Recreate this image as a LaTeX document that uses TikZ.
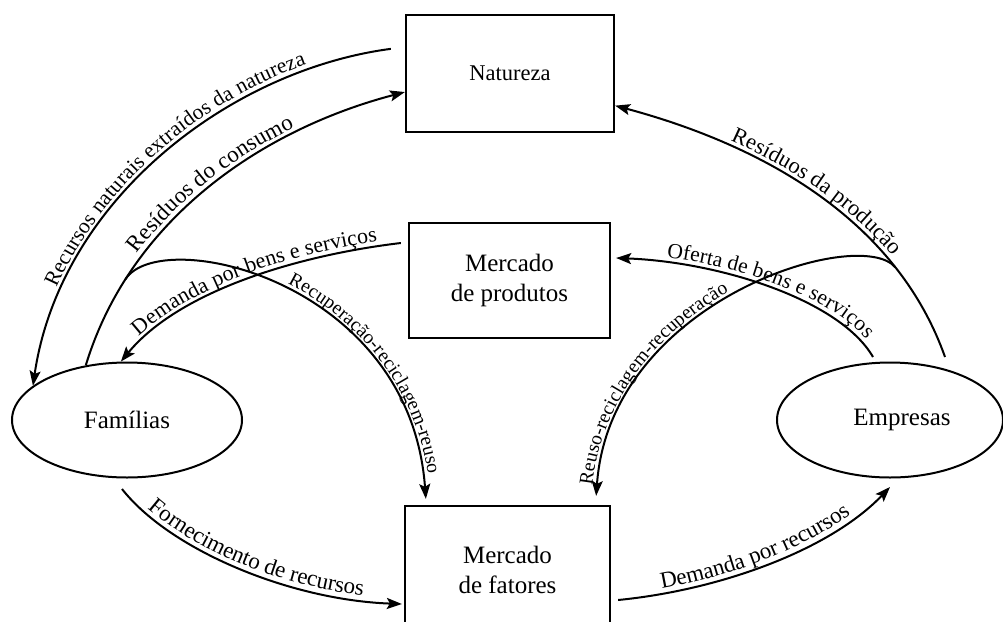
\documentclass[tikz,border=0pt]{standalone}
\usepackage{fontspec}
\setmainfont{Liberation Serif}
\usetikzlibrary{arrows.meta,calc,decorations.text,shapes.geometric}
\newcommand\fsz[1]{\fontsize{#1}{24}\selectfont}
\begin{document}
\begin{tikzpicture}[x=1pt,y=-1pt,
  box/.style={draw, line width=2.3pt, rectangle, align=center, inner sep=0pt, font=\fontsize{25}{30}\selectfont},
  oval/.style={draw, line width=2pt, ellipse, inner sep=0pt, font=\fontsize{25}{30}\selectfont},
  flow/.style={line width=2pt, -{Stealth[length=15pt,width=11pt,inset=3pt]}},
  lbl/.style={decorate, decoration={text along path, text align={left indent=#1}, raise=5pt}},
]
\useasboundingbox (0,0) rectangle (1003,621);
\clip (0,0) rectangle (1003,621);

% nodes
\node[box, minimum width=208pt, minimum height=117pt, font=\fontsize{22.5}{27}\selectfont] (nat) at (510,73.5) {Natureza};
\node[box, minimum width=201pt, minimum height=115pt] (prod) at (509.5,280.5) {Mercado\\de produtos};
\node[box, minimum width=205pt, minimum height=128pt] (fat) at (507.5,570) {Mercado\\de fatores};
\node[oval, minimum width=230pt, minimum height=115pt] (fam) at (127,420) {Famílias};
\node[oval, minimum width=226pt, minimum height=115pt] (emp) at (890,420) {\kern24pt Empresas};

% connectors
\draw[flow] ($(nat.north west)+(-14,35)$) .. controls (230,70) and (60,200) .. (fam.160);
\draw[flow] (fam.127) .. controls (130,220) and (260,130) .. coordinate[pos=0.215] (c4s) (nat.190);
\draw[flow] ($(prod.west)+(-7,-37.5)$) .. controls (300,255) and (180,290) .. (fam.96);
\draw[flow] (c4s) .. controls (160,225) and (410,280) .. ($(fat.north west)+(22,-6)$);
\draw[flow] ($(emp.north)+(55,-4.5)$) .. controls (900,230) and (780,150) .. coordinate[pos=0.26] (c7s) (nat.-17);
\draw[flow] ($(emp.north)+(-17,-4.5)$) .. controls (840,300) and (720,262) .. ($(prod.east)+(5,-22.5)$);
\draw[flow] (c7s) .. controls (860,225) and (610,300) .. ($(fat.north east)+(-15,-9)$);
\draw[flow] ($(fam.south)+(-5,10.5)$) .. controls (170,550) and (290,600) .. ($(fat.west)+(-2,34)$);
\draw[flow] ($(fat.east)+(7,30)$) .. controls (720,590) and (830,550) .. ($(emp.south)+(0,8.5)$);

% labels
\path[lbl=100pt, decoration={text={|\fsz{21.5}|Recursos naturais extraídos da natureza}}]
  (fam.160) .. controls (60,200) and (230,70) .. ($(nat.north west)+(-14,35)$);
\path[lbl=122pt, decoration={text={|\fsz{23}|Resíduos do consumo}}]
  (fam.127) .. controls (130,220) and (260,130) .. (nat.190);
\path[lbl=30pt, decoration={text={|\fsz{22}|Demanda por bens e serviços}}]
  (fam.96) .. controls (180,290) and (300,255) .. ($(prod.west)+(-7,-37.5)$);
\path[lbl=170pt, decoration={text={|\fsz{19.5}|Recuperação-reciclagem-reuso}}]
  (c4s) .. controls (160,225) and (410,280) .. ($(fat.north west)+(22,-6)$);
\path[lbl=120pt, decoration={text={|\fsz{22.5}|Resíduos da produção}}]
  (nat.-17) .. controls (780,150) and (900,230) .. ($(emp.north)+(55,-4.5)$);
\path[lbl=50pt, decoration={text={|\fsz{21.5}|Oferta de bens e serviços}}]
  ($(prod.east)+(5,-22.5)$) .. controls (720,262) and (840,300) .. ($(emp.north)+(-17,-4.5)$);
\path[lbl=10pt, decoration={text={|\fsz{19.5}|Reuso-reciclagem-recuperação}}]
  ($(fat.north east)+(-15,-9)$) .. controls (610,300) and (860,225) .. (c7s);
\path[lbl=33pt, decoration={text={|\fsz{23}|Fornecimento de recursos}}]
  ($(fam.south)+(-5,10.5)$) .. controls (170,550) and (290,600) .. ($(fat.west)+(-2,34)$);
\path[lbl=45pt, decoration={text={|\fsz{23}|Demanda por recursos}}]
  ($(fat.east)+(7,30)$) .. controls (720,590) and (830,550) .. ($(emp.south)+(0,8.5)$);
\end{tikzpicture}
\end{document}
